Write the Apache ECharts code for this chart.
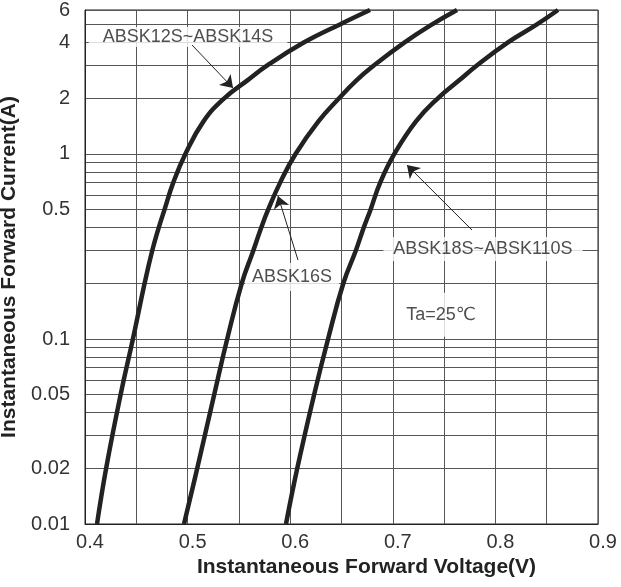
<!DOCTYPE html>
<html>
<head>
<meta charset="utf-8">
<script src="https://cdn.jsdelivr.net/npm/echarts@6/dist/echarts.min.js"></script>
<style>
html,body{margin:0;padding:0;background:#fff;}
#chart{width:621px;height:587px;}
</style>
</head>
<body>
<div id="chart"></div>
<script>
// ---- data ----
const xAxisTicks = [0.4, 0.5, 0.6, 0.7, 0.8, 0.9];
const yAxisTickLabels = [0.01, 0.02, 0.05, 0.1, 0.5, 1, 2, 4, 6];
const yGridValues = [0.01,0.02,0.03,0.04,0.05,0.06,0.07,0.08,0.09,0.1,0.2,0.3,0.4,0.5,0.6,0.7,0.8,0.9,1,2,3,4,5,6];
const seriesNames = ['ABSK12S~ABSK14S', 'ABSK16S', 'ABSK18S~ABSK110S'];
const currentA = [0.01,0.02,0.05,0.1,0.2,0.3,0.4,0.5,0.7,1,1.5,2,2.5,3,4,5,6];
const voltageABSK12S = [0.4117,0.4206,0.4347,0.4467,0.4581,0.4655,0.4719,0.4775,0.4860,0.4978,0.5155,0.5357,0.5583,0.5773,0.6132,0.6479,0.6778];
const voltageABSK16S = [0.4965,0.5094,0.5259,0.5386,0.5528,0.5640,0.5718,0.5785,0.5902,0.6052,0.6275,0.6476,0.6646,0.6813,0.7112,0.7379,0.7626];
const voltageABSK18S = [0.5959,0.6069,0.6233,0.6369,0.6518,0.6639,0.6717,0.6783,0.6877,0.7015,0.7226,0.7439,0.7647,0.7816,0.8119,0.8401,0.8610];
const noteText = 'Ta=25\u2103';

// ---- chart ----
const FONT = 'Arial, "Liberation Sans", "DejaVu Sans", "Noto Sans CJK SC", sans-serif';
const voltages = [voltageABSK12S, voltageABSK16S, voltageABSK18S];

function pairs(v, i) { return v.map((x, k) => [x, i[k]]); }

// annotation anchors (data coordinates)
const notes = [
  { value: [0.5004, 4.29], text: seriesNames[0], padding: [1, 14], lineHeight: 18 },
  { value: [0.6018, 0.216], text: seriesNames[1], padding: [4, 7], lineHeight: 20 },
  { value: [0.7879, 0.306], text: seriesNames[2], padding: [2, 10], lineHeight: 20 },
  { value: [0.747, 0.135], text: noteText, padding: [12, 11], lineHeight: 20 }
];
const arrows = [
  [[0.5043, 3.88], [0.5443, 2.27]],
  [[0.6076, 0.267], [0.5881, 0.593]],
  [[0.7772, 0.388], [0.7138, 0.871]]
];

const curveSeries = voltages.map((v, k) => ({
  name: seriesNames[k],
  type: 'line',
  data: pairs(v, currentA),
  showSymbol: false,
  symbol: 'none',
  smooth: 0.45,
  z: 5,
  lineStyle: { color: '#222', width: 4.5 },
  emphasis: { disabled: true }
}));

const option = {
  animation: false,
  backgroundColor: '#fff',
  grid: {
    left: 85, top: 10, right: 23, bottom: 63,
    show: true, borderColor: '#222', borderWidth: 1,
    outerBoundsMode: 'none'
  },
  xAxis: {
    type: 'value',
    min: 0.4, max: 0.9, interval: 0.05,
    name: 'Instantaneous Forward Voltage(V)',
    nameLocation: 'middle',
    nameGap: 31,
    nameTextStyle: { fontFamily: FONT, fontSize: 21, fontWeight: 'bold', color: '#222', padding: [0, 0, 0, 50] },
    axisLine: { show: true, lineStyle: { color: '#222', width: 1 } },
    axisTick: { show: false },
    axisLabel: {
      fontFamily: FONT, fontSize: 20, color: '#333', margin: 8,
      padding: [0, 0, 0, 10],
      formatter: function (v) {
        const hit = xAxisTicks.find(t => Math.abs(t - v) < 1e-6);
        return hit !== undefined ? hit.toFixed(1) : '';
      }
    },
    splitLine: { show: true, lineStyle: { color: '#555', width: 1 } }
  },
  yAxis: {
    type: 'log',
    logBase: 10,
    min: 0.01, max: 6,
    name: 'Instantaneous Forward Current(A)',
    nameLocation: 'middle',
    nameGap: 57,
    nameTextStyle: { fontFamily: FONT, fontSize: 21, fontWeight: 'bold', color: '#222' },
    axisLine: { show: true, lineStyle: { color: '#222', width: 1 } },
    axisTick: { show: false, customValues: yGridValues },
    axisLabel: {
      fontFamily: FONT, fontSize: 20, color: '#333', margin: 15,
      customValues: yAxisTickLabels,
      formatter: function (v) { return String(+Number(v).toPrecision(6)); }
    },
    splitLine: { show: true, lineStyle: { color: '#555', width: 1 } }
  },
  series: curveSeries.concat([{
    type: 'scatter',
    z: 3,
    symbolSize: 0,
    silent: true,
    data: notes.map(n => ({
      value: n.value,
      label: {
        show: true, position: 'inside', formatter: n.text,
        fontFamily: FONT, fontSize: 18, color: '#222',
        backgroundColor: '#fff', padding: n.padding, lineHeight: n.lineHeight
      }
    })),
    markLine: {
      silent: true,
      symbol: ['none', 'arrow'],
      symbolSize: 12,
      label: { show: false },
      lineStyle: { color: '#222', width: 1, type: 'solid' },
      emphasis: { disabled: true },
      data: arrows.map(a => [{ coord: a[0] }, { coord: a[1] }])
    }
  }])
};

const chart = echarts.init(document.getElementById('chart'), null, { renderer: 'canvas' });
chart.setOption(option);
</script>
</body>
</html>
